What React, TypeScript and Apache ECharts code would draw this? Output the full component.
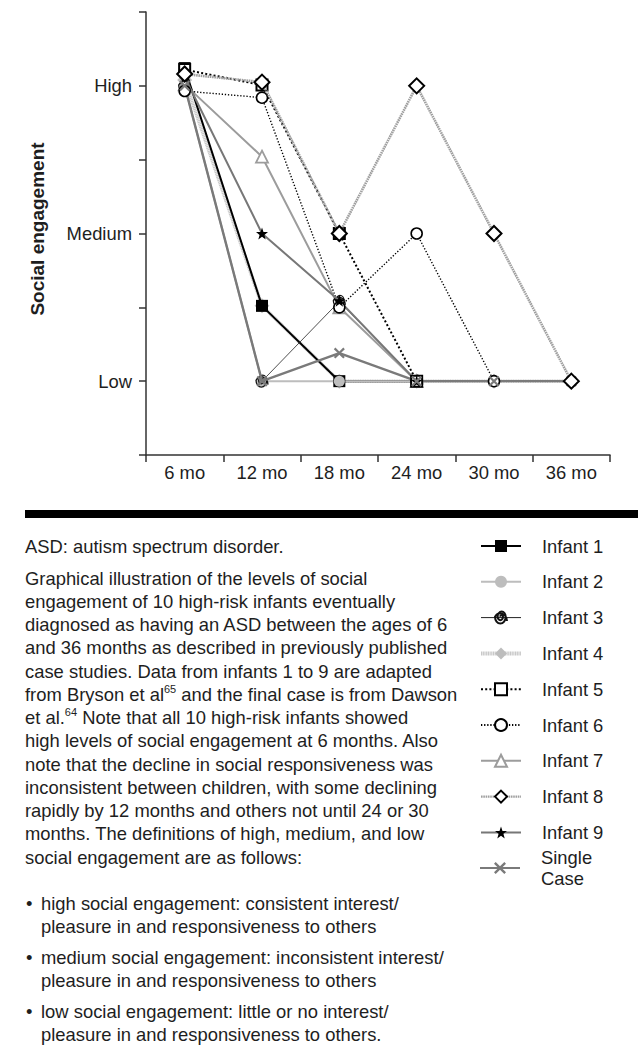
import React, { useEffect, useRef } from "react";
import * as echarts from "echarts";

const months = ["6 mo", "12 mo", "18 mo", "24 mo", "30 mo", "36 mo"];
const levelValues = [1, 3, 5];
const levelNames = ["Low", "Medium", "High"];

const infant1 = [5.24, 2.02, 1, 1, null, null];
const infant2 = [5.0, 1, 1, 1, 1, null];
const infant3 = [5.0, 1, 2.08, 1, null, null];
const infant4 = [5.08, 2.02, 1, 1, 1, 1];
const infant5 = [5.22, 5.01, 3, 1, null, null];
const infant6 = [4.93, 4.84, 2.0, 3, 1, null];
const infant7 = [5.02, 4.04, 2.0, 1, null, null];
const infant8 = [5.16, 5.05, 3, 5, 3, 1];
const infant9 = [5.12, 3, 2.09, 1, null, null];
const singleCase = [5.0, 1, 1.38, 1, 1, 1];

const seriesNames = [
  "Infant 1", "Infant 2", "Infant 3", "Infant 4", "Infant 5",
  "Infant 6", "Infant 7", "Infant 8", "Infant 9", "Single Case",
];

const noteLine = "ASD: autism spectrum disorder.";
const paragraphLines = [
  "Graphical illustration of the levels of social",
  "engagement of 10 high-risk infants eventually",
  "diagnosed as having an ASD between the ages of 6",
  "and 36 months as described in previously published",
  "case studies. Data from infants 1 to 9 are adapted",
  "from Bryson et al{sup|65} and the final case is from Dawson",
  "et al.{sup|64} Note that all 10 high-risk infants showed",
  "high levels of social engagement at 6 months. Also",
  "note that the decline in social responsiveness was",
  "inconsistent between children, with some declining",
  "rapidly by 12 months and others not until 24 or 30",
  "months. The definitions of high, medium, and low",
  "social engagement are as follows:",
];
const bulletItems = [
  ["high social engagement: consistent interest/", "pleasure in and responsiveness to others"],
  ["medium social engagement: inconsistent interest/", "pleasure in and responsiveness to others"],
  ["low social engagement: little or no interest/", "pleasure in and responsiveness to others."],
];

const FONT = "'Liberation Sans', Arial, Helvetica, sans-serif";
const TXT = "#1e1e1e";
const BODY = 18.4;

const STAR = "path://M0,-10 L2.35,-3.24 9.51,-3.09 3.8,1.24 5.88,8.09 0,4 -5.88,8.09 -3.8,1.24 -9.51,-3.09 -2.35,-3.24 Z";
const XMARK = "path://M-5,-3.6 L-3.6,-5 0,-1.4 3.6,-5 5,-3.6 1.4,0 5,3.6 3.6,5 0,1.4 -3.6,5 -5,3.6 -1.4,0 Z";
const SPIRAL = "path://M0,0 A1,1 0 0,1 2,0 A2,2 0 0,1 -2,0 A3,3 0 0,1 4,0 A4,4 0 0,1 -4,0 A5,5 0 0,1 5,2.5";

export default function App() {
  const ref = useRef<HTMLDivElement>(null);

  useEffect(() => {
    if (!ref.current) return;
    const chart = echarts.init(ref.current, undefined, { renderer: "svg" });

    const mk = (
      name: string,
      data: (number | null)[],
      line: any,
      symbol: string,
      symbolSize: number,
      item: any,
      z: number
    ) => ({
      name,
      type: "line",
      data,
      symbol,
      symbolSize,
      showSymbol: true,
      connectNulls: false,
      lineStyle: line,
      itemStyle: item,
      z,
      emphasis: { disabled: true },
    });

    const series = [
      mk(seriesNames[0], infant1, { color: "#000", width: 2 }, "rect", 12, { color: "#000" }, 2),
      mk(seriesNames[1], infant2, { color: "#bdbdbd", width: 2 }, "circle", 11, { color: "#bdbdbd" }, 2),
      mk(seriesNames[2], infant3, { color: "#222", width: 0.8 }, SPIRAL, 12, { color: "rgba(0,0,0,0)", borderColor: "#111", borderWidth: 1.3 }, 2),
      mk(seriesNames[3], infant4, { color: "#c8c8c8", width: 3.5, type: [1.2, 0.5] }, "diamond", 15, { color: "#bdbdbd" }, 1),
      mk(seriesNames[4], infant5, { color: "#000", width: 2, type: [2, 2.2] }, "rect", 11, { color: "#fff", borderColor: "#000", borderWidth: 2 }, 3),
      mk(seriesNames[5], infant6, { color: "#000", width: 1.4, type: [1.3, 1.8] }, "circle", 11, { color: "#fff", borderColor: "#000", borderWidth: 1.6 }, 3),
      mk(seriesNames[6], infant7, { color: "#9c9c9c", width: 2 }, "triangle", 12, { color: "#fff", borderColor: "#9c9c9c", borderWidth: 1.8 }, 2),
      mk(seriesNames[7], infant8, { color: "#a0a0a0", width: 2.6, type: [1.6, 0.7] }, "diamond", 15, { color: "#fff", borderColor: "#000", borderWidth: 2 }, 4),
      mk(seriesNames[8], infant9, { color: "#777", width: 2 }, STAR, 12, { color: "#000" }, 3),
      mk(seriesNames[9], singleCase, { color: "#7a7a7a", width: 2.4 }, XMARK, 11, { color: "#7a7a7a" }, 3),
    ];

    const graphics: any[] = [];
    graphics.push({
      type: "text",
      x: 37,
      y: 229,
      rotation: Math.PI / 2,
      style: {
        text: "Social engagement",
        font: `bold 19px ${FONT}`,
        fill: TXT,
        textAlign: "center",
        textVerticalAlign: "middle",
      },
    });
    graphics.push({
      type: "rect",
      shape: { x: 25, y: 510, width: 613, height: 8 },
      style: { fill: "#000" },
    });
    graphics.push({
      type: "text",
      x: 25,
      y: 546,
      style: { text: noteLine, font: `${BODY}px ${FONT}`, fill: TXT, textVerticalAlign: "middle" },
    });
    paragraphLines.forEach((t, i) => {
      graphics.push({
        type: "text",
        x: 25,
        y: 578 + i * 23.27,
        style: {
          text: t,
          font: `${BODY}px ${FONT}`,
          fontSize: BODY,
          fontFamily: FONT,
          fill: TXT,
          textVerticalAlign: "middle",
          rich: {
            sup: { fontSize: 11, fontFamily: FONT, fill: TXT, padding: [0, 0, 11, 0] },
          },
        },
      });
    });
    bulletItems.forEach((lines, i) => {
      const y0 = 903 + i * 54;
      graphics.push({
        type: "text",
        x: 26,
        y: y0,
        style: { text: "•", font: `${BODY}px ${FONT}`, fill: TXT, textVerticalAlign: "middle" },
      });
      lines.forEach((t, j) => {
        graphics.push({
          type: "text",
          x: 41,
          y: y0 + j * 23.27,
          style: { text: t, font: `${BODY}px ${FONT}`, fill: TXT, textVerticalAlign: "middle" },
        });
      });
    });

    const legendText = { color: TXT, fontSize: BODY, fontFamily: FONT, lineHeight: 20, padding: [0, 0, 0, 16] };
    const legendData = seriesNames.slice(0, 9).map((n, i) => {
      if (i === 3) return { name: n, lineStyle: { width: 4, color: "#c8c8c8" } };
      if (i === 7) return { name: n, lineStyle: { width: 2.4, color: "#a0a0a0" } };
      if (i === 2) return { name: n, lineStyle: { width: 1, color: "#222" } };
      return { name: n };
    });

    chart.setOption({
      animation: false,
      textStyle: { fontFamily: FONT },
      grid: { left: 146, right: 28, top: 12, bottom: 594 },
      legend: [
        {
          orient: "vertical",
          left: 479,
          top: 536,
          padding: 0,
          itemWidth: 40,
          itemHeight: 15,
          itemGap: 15.8,
          data: legendData,
          textStyle: legendText,
          selectedMode: false,
        },
        {
          orient: "vertical",
          left: 479,
          top: 868 - 31.5,
          padding: 0,
          itemWidth: 40,
          itemHeight: 15,
          data: [seriesNames[9]],
          formatter: () => "Single\nCase",
          textStyle: { ...legendText, lineHeight: 21, padding: [21, 0, 0, 16] },
          selectedMode: false,
        },
      ],
      xAxis: {
        type: "category",
        data: months,
        boundaryGap: true,
        axisLine: { lineStyle: { color: "#333", width: 1.5 } },
        axisTick: { show: true, interval: 0, length: 7, lineStyle: { color: "#333", width: 1.5 } },
        axisLabel: { color: TXT, fontSize: 18.4, fontFamily: FONT, margin: 8, interval: 0 },
        splitLine: { show: false },
      },
      yAxis: {
        type: "value",
        min: 0,
        max: 6,
        interval: 1,
        axisLine: { show: true, lineStyle: { color: "#333", width: 1.5 } },
        axisTick: { show: true, length: 7, lineStyle: { color: "#333", width: 1.5 } },
        axisLabel: {
          color: TXT,
          fontSize: 18.4,
          fontFamily: FONT,
          margin: 14,
          formatter: (v: number) => {
            const idx = levelValues.indexOf(v);
            return idx >= 0 ? levelNames[idx] : "";
          },
        },
        splitLine: { show: false },
      },
      graphic: graphics,
      series,
    });

    return () => chart.dispose();
  }, []);

  return (
    <div
      ref={ref}
      style={{ position: "absolute", left: 0, top: 0, width: 638, height: 1049, background: "#fff" }}
    />
  );
}
